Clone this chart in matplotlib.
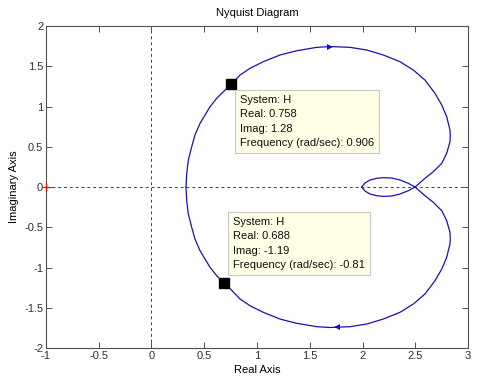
import numpy as np
import matplotlib
matplotlib.use("Agg")
import matplotlib.pyplot as plt

# Nyquist curve, positive frequencies
re_pos = [0.327, 0.334, 0.349, 0.381, 0.412, 0.460, 0.507, 0.555, 0.618, 0.681,
          0.758, 0.839, 0.934, 1.060, 1.218, 1.376, 1.566, 1.692, 1.882, 2.040,
          2.197, 2.355, 2.482, 2.592, 2.687, 2.751, 2.798, 2.829, 2.832, 2.829,
          2.798, 2.751, 2.671, 2.592, 2.498, 2.434, 2.355, 2.277, 2.197, 2.135,
          2.071, 2.024, 1.992]
im_pos = [0.0, 0.170, 0.335, 0.50, 0.646, 0.791, 0.894, 0.998, 1.102, 1.184,
          1.28, 1.391, 1.475, 1.557, 1.640, 1.693, 1.735, 1.745, 1.735, 1.702,
          1.640, 1.557, 1.453, 1.329, 1.164, 1.019, 0.873, 0.708, 0.635, 0.563,
          0.419, 0.294, 0.190, 0.108, 0.0, -0.046, -0.087, -0.112, -0.116, -0.108,
          -0.087, -0.05, 0.0]

# data tips
tip_re = [0.758, 0.688]
tip_im = [1.28, -1.19]
tip_freq = ["0.906", "-0.81"]

# direction arrows
arr_re = [1.69, 1.755]
arr_im = [1.745, -1.745]

xticks = [-1, -0.5, 0, 0.5, 1, 1.5, 2, 2.5, 3]
yticks = [-2, -1.5, -1, -0.5, 0, 0.5, 1, 1.5, 2]

plt.rcParams['font.family'] = ['Liberation Sans', 'DejaVu Sans']
plt.rcParams['font.size'] = 8

fig = plt.figure(figsize=(4.93, 3.86), dpi=100)
ax = fig.add_axes([0.0933, 0.0984, 0.8560, 0.8342])

re_pos = np.array(re_pos)
im_pos = np.array(im_pos)
line_col = '#1414b4'
# negative frequencies are the mirror image
ax.plot(re_pos, im_pos, color=line_col, lw=0.9)
ax.plot(re_pos, -im_pos, color=line_col, lw=0.9)

ax.axhline(0, color='#404040', ls=(0, (3, 3)), lw=0.7, zorder=1)
ax.axvline(0, color='#404040', ls=(0, (3, 3)), lw=0.7, zorder=1)
ax.plot([-1], [0], marker='+', color='red', ms=6, mew=0.9, clip_on=False, zorder=5)

ax.plot(arr_re[0], arr_im[0], marker='>', color=line_col, ms=5, mew=0)
ax.plot(arr_re[1], arr_im[1], marker='<', color=line_col, ms=5, mew=0)

ax.plot(tip_re, tip_im, 's', color='black', ms=6.5, zorder=6)
offsets = [(6.2, -7.7), (6.4, 47.4)]
for x, y, f, off in zip(tip_re, tip_im, tip_freq, offsets):
    txt = "System: H\nReal: %s\nImag: %s\nFrequency (rad/sec): %s" % (x, y, f)
    ax.annotate(txt, (x, y), xytext=off, textcoords='offset points',
                ha='left', va='top', fontsize=8, linespacing=1.56, color='#101010',
                bbox=dict(boxstyle='square,pad=0.45', fc='#ffffe6', ec='#c8c8c8', lw=0.8),
                zorder=7)

ax.set_xlim(-1, 3)
ax.set_ylim(-2, 2)
ax.set_xticks(xticks)
ax.set_yticks(yticks)
ax.set_xticklabels(['%g' % t for t in xticks])
ax.set_yticklabels(['%g' % t for t in yticks])
ax.tick_params(direction='in', top=True, right=True, length=4, width=0.7,
               colors='#505050', labelcolor='#303030', labelsize=8, pad=2)
for s in ax.spines.values():
    s.set_color('#505050')
    s.set_linewidth(0.8)

ax.set_title("Nyquist Diagram", fontsize=8, pad=7)
ax.set_xlabel("Real Axis", fontsize=8, labelpad=3)
ax.set_ylabel("Imaginary Axis", fontsize=8, labelpad=4)

fig.savefig("out.png", dpi=100)
